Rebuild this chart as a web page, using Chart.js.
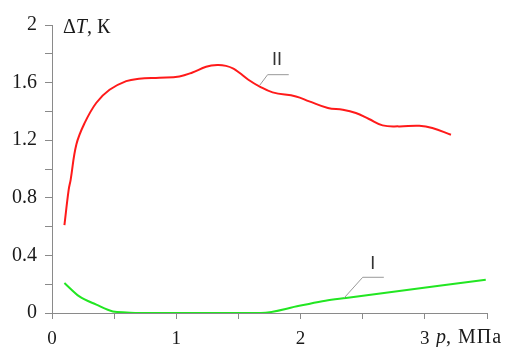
<!DOCTYPE html>
<html>
<head>
<meta charset="utf-8">
<script src="https://cdn.jsdelivr.net/npm/chart.js@4/dist/chart.umd.min.js"></script>
<style>
  html, body { margin: 0; padding: 0; background: #fff; }
  #wrap { width: 513px; height: 347px; }
</style>
</head>
<body>
<div id="wrap"><canvas id="chart"></canvas></div>
<script>
// curve II (red)
var pressureII = [0.10, 0.134, 0.15, 0.196, 0.263, 0.357, 0.463, 0.597, 0.70, 0.865, 1.025, 1.13, 1.24, 1.33, 1.40, 1.46, 1.508, 1.58, 1.668, 1.775, 1.963, 2.07, 2.22, 2.34, 2.445, 2.55, 2.66, 2.79, 2.955, 3.06, 3.21];
var deltaII = [0.61, 0.855, 0.925, 1.17, 1.32, 1.46, 1.55, 1.61, 1.627, 1.634, 1.643, 1.67, 1.71, 1.722, 1.716, 1.697, 1.668, 1.62, 1.574, 1.532, 1.504, 1.47, 1.424, 1.412, 1.389, 1.347, 1.303, 1.296, 1.30, 1.285, 1.238];

// curve I (green)
var pressureI = [0.10, 0.22, 0.357, 0.49, 0.60, 0.70, 1.0, 1.3, 1.68, 1.99, 2.20, 2.365, 3.49];
var deltaI = [0.208, 0.115, 0.058, 0.011, 0.004, 0, 0, 0, 0, 0.05, 0.085, 0.104, 0.231];

var xLabels = ["0", "1", "2", "3"];
var yLabels = ["0", "0.4", "0.8", "1.2", "1.6", "2"];

function pts(xs, ys) {
    return xs.map(function (x, i) { return { x: x, y: ys[i] }; });
}

var axisGray = '#8a8a8a';
var serif = "'Liberation Serif', 'Times New Roman', serif";
Chart.defaults.font.family = serif;
Chart.defaults.color = '#1a1a1a';

var annotations = {
    id: 'annotations',
    afterDraw: function (chart) {
        var c = chart.ctx;
        var xs = chart.scales.x, ys = chart.scales.y;
        c.save();
        // leader lines for curve labels
        c.strokeStyle = '#999';
        c.lineWidth = 1;
        c.beginPath();
        c.moveTo(xs.getPixelForValue(1.67), ys.getPixelForValue(1.58));
        c.lineTo(xs.getPixelForValue(1.735), ys.getPixelForValue(1.655));
        c.lineTo(xs.getPixelForValue(1.905), ys.getPixelForValue(1.655));
        c.moveTo(xs.getPixelForValue(2.35), ys.getPixelForValue(0.104));
        c.lineTo(xs.getPixelForValue(2.50), ys.getPixelForValue(0.248));
        c.lineTo(xs.getPixelForValue(2.67), ys.getPixelForValue(0.248));
        c.stroke();

        c.fillStyle = '#333';
        c.font = "18px 'Liberation Sans', Arial, sans-serif";
        c.textAlign = 'center';
        c.textBaseline = 'alphabetic';
        c.fillText('II', xs.getPixelForValue(1.81), ys.getPixelForValue(1.72));
        c.fillText('I', xs.getPixelForValue(2.58), ys.getPixelForValue(0.305));

        // axis titles with italic symbols
        c.fillStyle = '#1a1a1a';
        c.textAlign = 'left';
        c.textBaseline = 'middle';
        var tx = 63, ty = 28;
        c.font = '20px ' + serif;
        c.fillText('\u0394', tx, ty);
        tx += c.measureText('\u0394').width;
        c.font = 'italic 20px ' + serif;
        c.fillText('T', tx, ty);
        tx += c.measureText('T').width;
        c.font = '20px ' + serif;
        c.fillText(', \u041A', tx, ty);

        var px = 436, py = 338;
        c.font = 'italic 20px ' + serif;
        c.fillText('p', px, py);
        px += c.measureText('p').width;
        c.font = '20px ' + serif;
        c.fillText(',', px, py);
        px += c.measureText(', ').width + 2;
        c.letterSpacing = '1px';
        c.fillText('\u041C\u041F\u0430', px, py);
        c.restore();
    }
};

new Chart(document.getElementById('chart'), {
    type: 'scatter',
    data: {
        datasets: [
            {
                label: 'II',
                data: pts(pressureII, deltaII),
                showLine: true,
                borderColor: '#ff1a1a',
                borderWidth: 2,
                pointRadius: 0,
                tension: 0.4
            },
            {
                label: 'I',
                data: pts(pressureI, deltaI),
                showLine: true,
                borderColor: '#22e622',
                borderWidth: 2,
                pointRadius: 0,
                cubicInterpolationMode: 'monotone'
            }
        ]
    },
    plugins: [annotations],
    options: {
        responsive: true,
        maintainAspectRatio: false,
        animation: false,
        layout: { padding: { top: 25, right: 26, left: 0, bottom: 0 } },
        plugins: {
            legend: { display: false },
            tooltip: { enabled: false }
        },
        scales: {
            x: {
                type: 'linear',
                min: 0,
                max: 3.5,
                afterFit: function (s) { s.height = 34; },
                border: { color: axisGray, width: 1 },
                grid: { drawOnChartArea: false, color: axisGray, tickLength: 6 },
                ticks: {
                    stepSize: 0.5,
                    padding: 9,
                    color: '#1a1a1a',
                    font: { family: serif, size: 19 },
                    maxRotation: 0,
                    autoSkip: false,
                    callback: function (v) {
                        var i = Math.round(v * 2);
                        return (i % 2 === 0 && xLabels[i / 2] !== undefined) ? xLabels[i / 2] : '';
                    }
                }
            },
            y: {
                min: 0,
                max: 2,
                afterFit: function (s) { s.width = 52; },
                border: { color: axisGray, width: 1 },
                grid: { drawOnChartArea: false, color: axisGray, tickLength: 7 },
                ticks: {
                    stepSize: 0.2,
                    padding: 8,
                    color: '#1a1a1a',
                    font: { family: serif, size: 20 },
                    autoSkip: false,
                    callback: function (v) {
                        var i = Math.round(v * 5);
                        return i % 2 === 0 ? yLabels[i / 2] : '';
                    }
                }
            }
        }
    }
});
</script>
</body>
</html>
